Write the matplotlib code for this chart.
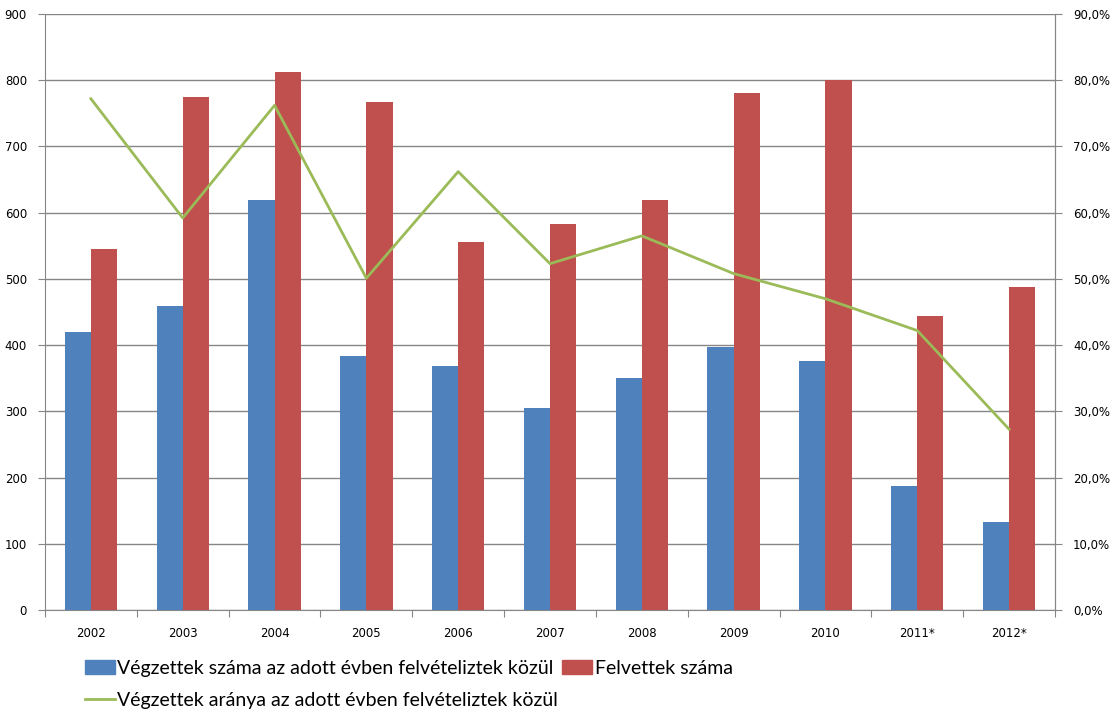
import matplotlib
matplotlib.use("Agg")
import matplotlib.pyplot as plt
import numpy as np
from matplotlib.ticker import FuncFormatter, MultipleLocator
from matplotlib.patches import Patch
from matplotlib.lines import Line2D

years = ["2002", "2003", "2004", "2005", "2006", "2007", "2008", "2009", "2010", "2011*", "2012*"]
vegzettek = [420, 459, 619, 384, 368, 305, 350, 397, 376, 187, 133]
felvettek = [545, 775, 812, 767, 556, 583, 619, 781, 800, 444, 488]
arany = [77.2, 59.2, 76.2, 50.1, 66.2, 52.3, 56.5, 50.8, 47.0, 42.2, 27.3]

blue = "#4F81BD"
red = "#C0504D"
green = "#9BBB59"
grid = "#868686"

fig = plt.figure(figsize=(11.13, 7.19), dpi=100)
ax = fig.add_axes([45/1113, 1-610/719, (1055-45)/1113, (610-14)/719])
x = np.arange(len(years))
w = 0.285
ax.bar(x - w/2, vegzettek, w, color=blue, zorder=3)
ax.bar(x + w/2, felvettek, w, color=red, zorder=3)
ax.set_ylim(0, 900)
ax.set_xlim(-0.5, len(years) - 0.5)
ax.yaxis.set_major_locator(MultipleLocator(100))
ax.grid(axis="y", color=grid, linewidth=1, zorder=0)
ax.set_axisbelow(True)
ax.set_xticks(np.arange(-0.5, len(years)), minor=False)
ax.set_xticklabels([])
ax.set_xticks(x, minor=True)
ax.set_xticklabels(years, minor=True, fontsize=8.5, family="DejaVu Sans")
ax.tick_params(axis="x", which="major", length=5, color=grid, direction="out")
ax.tick_params(axis="x", which="minor", length=0, pad=12)
ax.tick_params(axis="y", length=5, color=grid, labelsize=8.5, pad=8)
for s in ["top"]:
    ax.spines[s].set_visible(False)
for s in ["left", "bottom", "right"]:
    ax.spines[s].set_color(grid)

ax2 = ax.twinx()
ax2.plot(x, arany, color=green, linewidth=2, zorder=4)
ax2.set_ylim(0, 90)
ax2.yaxis.set_major_locator(MultipleLocator(10))
ax2.yaxis.set_major_formatter(FuncFormatter(lambda v, p: f"{v:.1f}%".replace(".", ",")))
ax2.tick_params(axis="y", length=5, color=grid, labelsize=8.5, pad=8)
for s in ["top", "left", "bottom"]:
    ax2.spines[s].set_visible(False)
ax2.spines["right"].set_color(grid)

handles = [Patch(color=blue), Line2D([0], [0], color=green, linewidth=2), Patch(color=red)]
labels = ["Végzettek száma az adott évben felvételiztek közül",
          "Végzettek aránya az adott évben felvételiztek közül",
          "Felvettek száma"]
fig.legend(handles, labels, ncol=2, loc="upper left", bbox_to_anchor=(85/1113, 1-660/719),
           frameon=False, prop={"family": "Lato", "size": 14}, handlelength=1.55,
           handleheight=0.75, handletextpad=0.12, columnspacing=0.2, labelspacing=0.75,
           borderaxespad=0, borderpad=0)
fig.savefig("out.png", dpi=100)
